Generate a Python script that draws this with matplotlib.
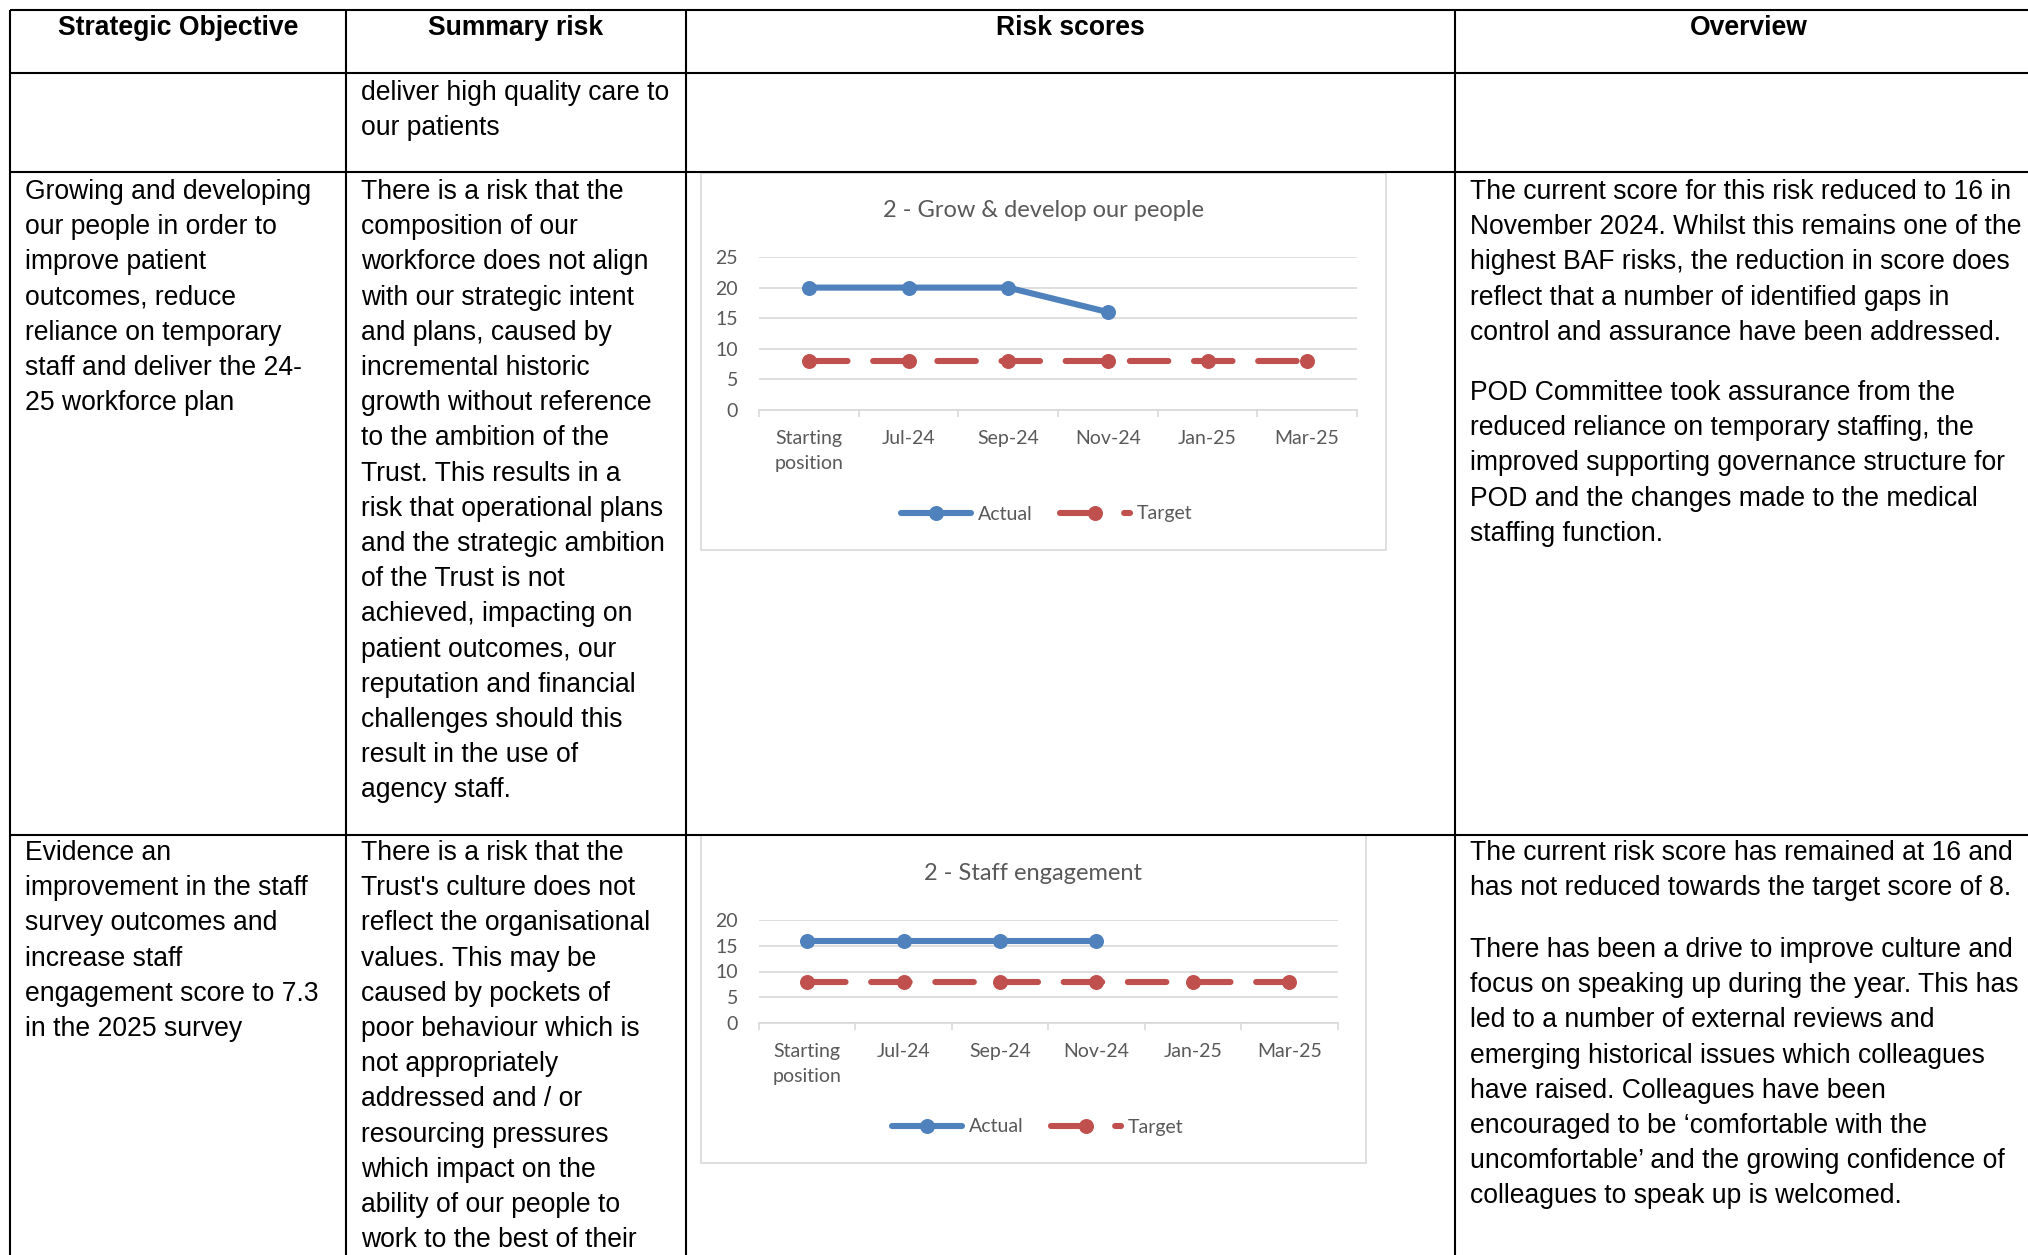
import numpy as np
import matplotlib.pyplot as plt
from matplotlib.patches import Rectangle

# ---- data ----
categories = ["Starting\nposition", "Jul-24", "Sep-24", "Nov-24", "Jan-25", "Mar-25"]
grow_actual = [20, 20, 20, 16]
grow_target = [8, 8, 8, 8, 8, 8]
engage_actual = [16, 16, 16, 16]
engage_target = [8, 8, 8, 8, 8, 8]

headers = ["Strategic Objective", "Summary risk", "Risk scores", "Overview"]

row1_risk = ["deliver high quality care to", "our patients"]

row2_objective = [
    "Growing and developing", "our people in order to", "improve patient",
    "outcomes, reduce", "reliance on temporary", "staff and deliver the 24-",
    "25 workforce plan",
]
row2_risk = [
    "There is a risk that the", "composition of our", "workforce does not align",
    "with our strategic intent", "and plans, caused by", "incremental historic",
    "growth without reference", "to the ambition of the", "Trust. This results in a",
    "risk that operational plans", "and the strategic ambition", "of the Trust is not",
    "achieved, impacting on", "patient outcomes, our", "reputation and financial",
    "challenges should this", "result in the use of", "agency staff.",
]
row2_overview_a = [
    "The current score for this risk reduced to 16 in",
    "November 2024. Whilst this remains one of the",
    "highest BAF risks, the reduction in score does",
    "reflect that a number of identified gaps in",
    "control and assurance have been addressed.",
]
row2_overview_b = [
    "POD Committee took assurance from the",
    "reduced reliance on temporary staffing, the",
    "improved supporting governance structure for",
    "POD and the changes made to the medical",
    "staffing function.",
]

row3_objective = [
    "Evidence an", "improvement in the staff", "survey outcomes and",
    "increase staff", "engagement score to 7.3", "in the 2025 survey",
]
row3_risk = [
    "There is a risk that the", "Trust's culture does not", "reflect the organisational",
    "values. This may be", "caused by pockets of", "poor behaviour which is",
    "not appropriately", "addressed and / or", "resourcing pressures",
    "which impact on the", "ability of our people to", "work to the best of their",
]
row3_overview_a = [
    "The current risk score has remained at 16 and",
    "has not reduced towards the target score of 8.",
]
row3_overview_b = [
    "There has been a drive to improve culture and",
    "focus on speaking up during the year. This has",
    "led to a number of external reviews and",
    "emerging historical issues which colleagues",
    "have raised. Colleagues have been",
    "encouraged to be \u2018comfortable with the",
    "uncomfortable\u2019 and the growing confidence of",
    "colleagues to speak up is welcomed.",
]

BLUE = "#4F81BD"
RED = "#C0504D"
GREY = "#595959"
LIGHT = "#D9D9D9"

W, H = 2028, 1255
fig = plt.figure(figsize=(W / 100, H / 100), dpi=100)
fig.patch.set_facecolor("white")

# table layer, pixel coordinates
tab = fig.add_axes([0, 0, 1, 1])
tab.set_xlim(0, W)
tab.set_ylim(H, 0)
tab.axis("off")

lw_tab = 1.5
for y in [10, 73, 172, 835]:
    tab.plot([10, W], [y, y], color="black", lw=lw_tab, solid_capstyle="butt")
for x in [10, 346, 686, 1455]:
    tab.plot([x, x], [10, H], color="black", lw=lw_tab, solid_capstyle="butt")

font_tab = "Liberation Sans"
fs = 19.1
step = 35.2

centres = [178, 516, 1070, 1749]
for c, h in zip(centres, headers):
    tab.text(c, 35, h, ha="center", va="baseline", fontsize=fs,
             fontweight="bold", family=font_tab)


def block(x, y0, lines):
    for i, s in enumerate(lines):
        tab.text(x, y0 + i * step, s, ha="left", va="baseline",
                 fontsize=fs, family=font_tab, color="black")


block(361, 100, row1_risk)
block(25, 199, row2_objective)
block(361, 199, row2_risk)
block(1470, 199, row2_overview_a)
block(1470, 400, row2_overview_b)
block(25, 860, row3_objective)
block(361, 860, row3_risk)
block(1470, 860, row3_overview_a)
block(1470, 957, row3_overview_b)

# ---- charts ----
font_chart = "Lato"


def chart(box, plot, ymax, title, title_base, legend_c, actual, target):
    bx0, by0, bx1, by1 = box
    tab.add_patch(Rectangle((bx0, by0), bx1 - bx0, by1 - by0, fill=False,
                            edgecolor=LIGHT, lw=1.2))
    px0, py_top, px1, py_bot = plot
    ax = fig.add_axes([px0 / W, 1 - py_bot / H, (px1 - px0) / W, (py_bot - py_top) / H])
    ax.patch.set_alpha(0)
    ax.set_xlim(-0.5, len(categories) - 0.5)
    ax.set_ylim(0, ymax)
    ax.set_yticks(np.arange(0, ymax + 1, 5))
    ax.grid(axis="y", color=LIGHT, lw=1.2)
    ax.set_axisbelow(True)
    for s in ["top", "right", "left"]:
        ax.spines[s].set_visible(False)
    ax.spines["bottom"].set_color(LIGHT)
    ax.spines["bottom"].set_linewidth(1.2)
    ax.set_xticks(range(len(categories)))
    ax.set_xticklabels(categories, linespacing=1.55)
    ax.set_xticks(np.arange(-0.5, len(categories), 1), minor=True)
    ax.tick_params(axis="x", which="major", length=0, pad=14.5, labelsize=14,
                   labelcolor=GREY)
    ax.tick_params(axis="x", which="minor", length=5, width=1.2, color=LIGHT,
                   direction="out")
    ax.tick_params(axis="y", length=0, pad=15, labelsize=14, labelcolor=GREY)
    for lab in ax.get_xticklabels() + ax.get_yticklabels():
        lab.set_family(font_chart)

    ax.plot(range(len(actual)), actual, color=BLUE, lw=4.4, marker="o", ms=10.8,
            mew=0, solid_capstyle="round", label="Actual", clip_on=False)
    ax.plot(range(len(target)), target, color=RED, lw=4.4, marker="o", ms=10.8,
            mew=0, dashes=(6.3, 4.2), dash_capstyle="round", label="Target",
            clip_on=False)

    tx = ((bx0 + bx1) / 2 - px0) / (px1 - px0)
    ty = (py_bot - title_base) / (py_bot - py_top)
    ax.set_title(title, x=tx, y=ty, pad=0, fontsize=17, color=GREY,
                 family=font_chart)

    ax.legend(loc="center", bbox_to_anchor=legend_c,
              bbox_transform=tab.transData, ncol=2, frameon=False,
              prop={"family": font_chart, "size": 14}, labelcolor=GREY,
              handlelength=3.6, handletextpad=0.35, columnspacing=1.4,
              borderpad=0, numpoints=1)


chart((701, 173, 1386, 550), (759, 257, 1357, 410), 25,
      "2 - Grow & develop our people", 217, (1047, 514),
      grow_actual, grow_target)
chart((701, 835, 1366, 1163), (759, 920, 1337.5, 1023), 20,
      "2 - Staff engagement", 880, (1038, 1127),
      engage_actual, engage_target)

fig.savefig("out.png", dpi=100, facecolor="white")
